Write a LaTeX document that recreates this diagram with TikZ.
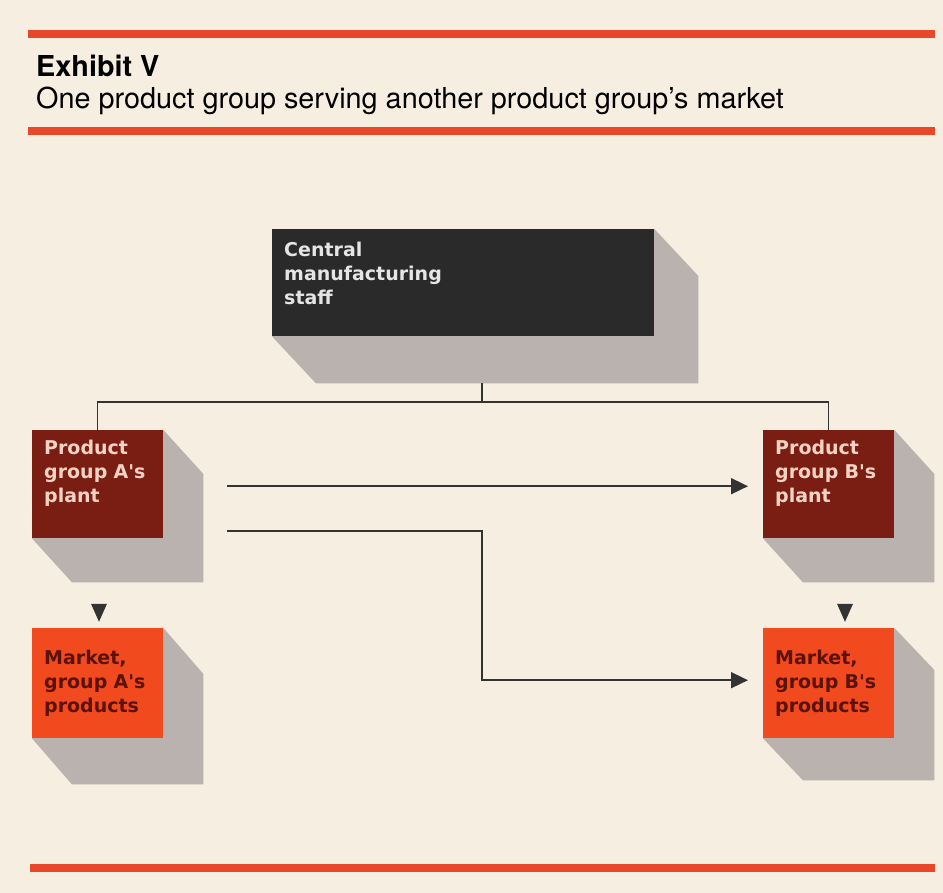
\documentclass[tikz,border=0pt]{standalone}
\usepackage{fontspec}
\setmainfont{TeX Gyre Heros}
\newfontfamily\boxfont{DejaVu Sans}
\usepackage{tikz}
\usetikzlibrary{calc, arrows.meta, shapes.geometric}
\definecolor{paperColor}{HTML}{F6EEE1}
\definecolor{barColor}{HTML}{E8472A}
\definecolor{staffColor}{HTML}{2B2A2A}
\definecolor{plantColor}{HTML}{7A1D13}
\definecolor{marketColor}{HTML}{F04A1E}
\definecolor{shadeColor}{HTML}{B9B2AE}
\definecolor{lineColor}{HTML}{333333}
\definecolor{plantText}{HTML}{F2D3C3}
\definecolor{marketText}{HTML}{5B1209}
\pgfdeclarelayer{paper}
\pgfdeclarelayer{shade}
\pgfsetlayers{paper,shade,main}
\tikzset{
  unit/.style={anchor=north west, inner xsep=12pt, inner ysep=0pt, align=left,
    font=\boxfont\bfseries\fontsize{19}{24}\selectfont},
  lift/.style={execute at end node={\par\vspace*{#1}}},
  staffbox/.style={unit, fill=staffColor, text=black!10, text width=358pt, minimum height=107pt, lift=18pt},
  plantbox/.style={unit, fill=plantColor, text=plantText, text width=107pt, minimum height=108pt, lift=22pt},
  marketbox/.style={unit, fill=marketColor, text=marketText, text width=107pt, minimum height=110pt},
  downtip/.style={isosceles triangle, isosceles triangle stretches, shape border rotate=-90,
    minimum width=16pt, minimum height=18pt, inner sep=0pt, fill=lineColor},
  bar/.style={draw=barColor, line width=8pt}
}

\begin{document}
\begin{tikzpicture}[x=1pt, y=-1pt,
    flow/.style={draw=lineColor, line width=1.7pt, -{Triangle[length=17pt, width=16pt]}},
    link/.style={draw=lineColor, line width=1.5pt}]
    \useasboundingbox (0,0) rectangle (943,893);
    \begin{pgfonlayer}{paper}
        \fill[paperColor] (0,0) rectangle (943,893);
    \end{pgfonlayer}
    % heading
    \draw[bar] (28,34) -- (935,34);
    \node[anchor=base west, inner sep=0pt, font=\bfseries\fontsize{28.8}{30}\selectfont] (title) at (36,77) {Exhibit V};
    \node[anchor=base west, inner sep=0pt, font=\fontsize{28.8}{30}\selectfont] (subtitle) at (36,109) {One product group serving another product group's market};
    \draw[bar] (28,131) -- (935,131);
    \draw[bar] (30,868) -- (935,868);
    % boxes
    \node[staffbox] (staff) at (272,229) {Central\\manufacturing\\staff};
    \node[plantbox] (plantA) at (32,430) {Product\\group A's\\plant};
    \node[plantbox] (plantB) at (763,430) {Product\\group B's\\plant};
    \node[marketbox] (marketA) at (32,628) {Market,\\group A's\\products};
    \node[marketbox] (marketB) at (763,628) {Market,\\group B's\\products};
    \begin{pgfonlayer}{shade}
        \foreach \n/\dx/\dy in {staff/44/47, plantA/40/44, plantB/40/44, marketA/40/46, marketB/40/42}
            \fill[shadeColor] (\n.north east) -- ++(\dx,\dy) -- ($(\n.south east)+(\dx,\dy)$)
                -- ($(\n.south west)+(\dx,\dy)$) -- (\n.south west) -- cycle;
    \end{pgfonlayer}
    % connectors
    \coordinate (hub) at (482,402);
    \draw[link, shorten <=47pt] (staff.south -| hub) -- (hub);
    \draw[link] (plantA.north) |- (hub) -| (plantB.north);
    \draw[flow, shorten <=64pt, shorten >=15pt] ([yshift=-2pt]plantA.east) -- ([yshift=-2pt]plantA.east -| plantB.west);
    \draw[flow, shorten <=64pt, shorten >=15pt] ([yshift=-47pt]plantA.east) -| ([yshift=3pt]marketB.west -| hub) -- ([yshift=3pt]marketB.west);
    \node[downtip] (tipA) at (99,609) {};
    \node[downtip] (tipB) at (845,609) {};
\end{tikzpicture}
\end{document}
